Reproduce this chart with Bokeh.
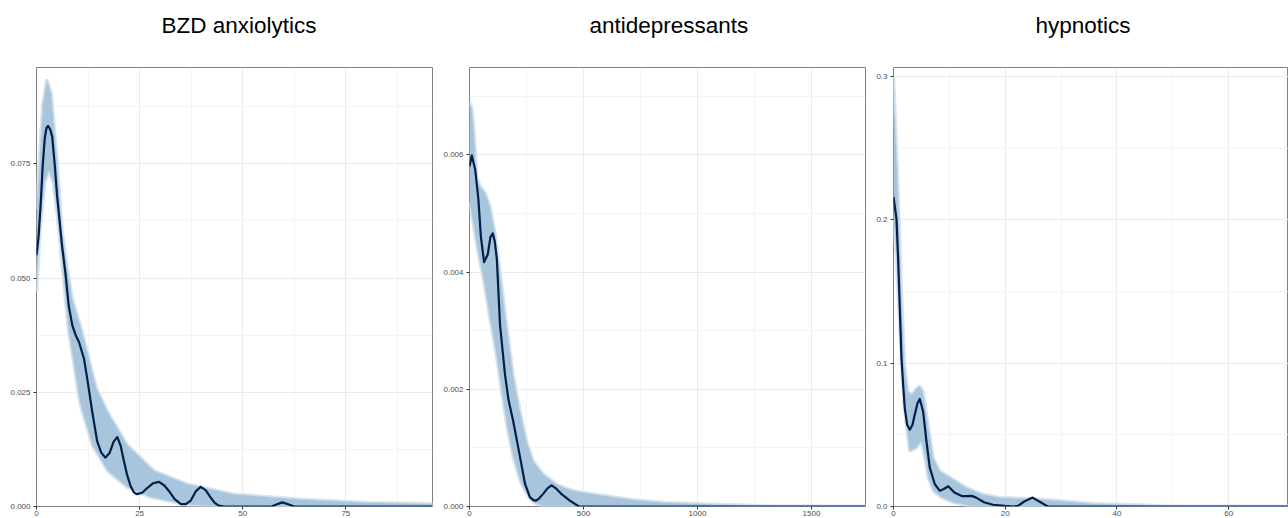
from bokeh.plotting import figure
from bokeh.models import Range1d, FixedTicker, PrintfTickFormatter, Title
from bokeh.layouts import row
from bokeh.embed import file_html
from bokeh.resources import INLINE

# ---------------- data ----------------
titles = ["BZD anxiolytics", "antidepressants", "hypnotics"]

# BZD anxiolytics
bzd_obs_x = [0, 0.5, 1.0, 1.5, 2.0, 2.4, 2.8, 3.3, 3.8, 4.4, 5.0, 5.6, 6.2, 7.0, 7.8, 8.7, 9.5, 10.3,
             11.5, 12.3, 13.5, 14.7, 15.7, 16.7, 17.7, 18.7, 19.6, 20.4, 21.2, 22.0, 22.8, 23.6, 24.4,
             25.6, 26.9, 28.3, 29.7, 31.0, 32.1, 33.5, 35.0, 36.2, 37.4, 38.6, 39.8, 41.0, 42.2, 43.2,
             44.2, 45.5, 57.0, 58.3, 59.6, 61.0, 62.5, 96]
bzd_obs_y = [0.055, 0.059, 0.066, 0.0745, 0.0805, 0.0828, 0.0833, 0.0826, 0.081, 0.075, 0.068, 0.0625,
             0.057, 0.0512, 0.044, 0.0396, 0.0375, 0.036, 0.0324, 0.028, 0.0208, 0.0143, 0.0118, 0.0107,
             0.0117, 0.0142, 0.0152, 0.0133, 0.0099, 0.0068, 0.0045, 0.0031, 0.0027, 0.003, 0.0041,
             0.0051, 0.0054, 0.0046, 0.0034, 0.0016, 0.0005, 0.0005, 0.0013, 0.0033, 0.0043, 0.0036,
             0.002, 0.0008, 0.0002, 0, 0, 0.0005, 0.0009, 0.0005, 0, 0]
bzd_up_x = [0, 0.8, 1.5, 2.5, 3.6, 5.0, 6.2, 7.4, 8.7, 11.1, 13.1, 14.5, 17.2, 22.0, 28.5, 36.6, 47.9,
            64.0, 80.0, 96]
bzd_up_y = [0.065, 0.077, 0.088, 0.0935, 0.0904, 0.0759, 0.0605, 0.0527, 0.0454, 0.0382, 0.031, 0.026,
            0.0208, 0.0135, 0.0078, 0.0049, 0.0027, 0.0016, 0.0009, 0.0006]
bzd_lo_x = [0, 1.0, 2.0, 3.0, 4.0, 5.0, 6.0, 7.0, 7.8, 9.1, 10.3, 11.1, 13.5, 17.2, 22.0, 27.7, 36.6,
            45.0, 96]
bzd_lo_y = [0.047, 0.062, 0.071, 0.0735, 0.071, 0.064, 0.055, 0.0454, 0.0382, 0.031, 0.0237, 0.0208,
            0.0135, 0.0078, 0.0042, 0.002, 0.0004, 0, 0]

# antidepressants
ad_obs_x = [0, 10, 25, 39, 50, 64, 80, 92, 102, 111, 120, 134, 156, 171, 192, 214, 244, 265, 280, 292,
            306, 324, 342, 360, 382, 404, 440, 480, 1737]
ad_obs_y = [0.0058, 0.00599, 0.00575, 0.00524, 0.0046, 0.00417, 0.0043, 0.0046, 0.00466, 0.00452,
            0.00422, 0.00309, 0.00224, 0.00182, 0.00145, 0.001, 0.00038, 0.00016, 0.00011, 0.0001,
            0.00014, 0.00022, 0.00031, 0.00036, 0.0003, 0.00021, 0.0001, 0, 0]
ad_up_x = [0, 10, 20, 32, 47, 69, 90, 112, 134, 163, 192, 222, 251, 280, 324, 382, 417, 455, 563, 709,
           853, 1072, 1300, 1737]
ad_up_y = [0.0069, 0.0068, 0.0064, 0.0056, 0.00546, 0.00535, 0.00512, 0.00467, 0.004, 0.00309, 0.00224,
           0.00162, 0.00111, 0.00077, 0.00055, 0.00038, 0.00032, 0.00027, 0.0002, 0.00012, 0.00007,
           0.00004, 0.00001, 0]
ad_lo_x = [0, 6, 32, 61, 90, 120, 141, 163, 192, 222, 251, 280, 324, 1737]
ad_lo_y = [0.0052, 0.00507, 0.00445, 0.00388, 0.0032, 0.00253, 0.00196, 0.0014, 0.00083, 0.00044,
           0.00021, 0.00007, 0, 0]

# hypnotics
hy_obs_x = [0, 0.54, 0.83, 1.13, 1.43, 1.73, 2.02, 2.44, 2.92, 3.4, 3.8, 4.3, 4.7, 5.3, 5.9, 6.5, 7.4,
            8.3, 9.0, 9.8, 10.9, 12.3, 13.2, 14.0, 14.8, 16.2, 17.8, 19.9, 21.5, 22.3, 23.4, 24.9, 26.4,
            27.6, 70.7]
hy_obs_y = [0.216, 0.2003, 0.1726, 0.138, 0.1033, 0.0848, 0.0686, 0.057, 0.0536, 0.057, 0.064, 0.072,
            0.075, 0.0663, 0.0455, 0.027, 0.0155, 0.0109, 0.0122, 0.0141, 0.0097, 0.0072, 0.0072, 0.0074,
            0.0062, 0.003, 0.0012, 0.0004, 0, 0.0005, 0.0035, 0.0062, 0.0028, 0, 0]
hy_up_x = [0, 0.36, 0.83, 1.43, 2.0, 2.6, 3.3, 4.0, 4.7, 5.3, 6.2, 7.1, 8.3, 10.7, 13.0, 16.0, 19.0, 24.0,
           30.0, 36.0, 44.8, 48.0, 70.7]
hy_up_y = [0.30, 0.265, 0.219, 0.149, 0.0986, 0.08, 0.078, 0.082, 0.084, 0.08, 0.057, 0.034, 0.0247,
           0.0189, 0.0132, 0.0085, 0.0062, 0.0055, 0.004, 0.002, 0.001, 0.0003, 0]
hy_lo_x = [0, 0.5, 1.0, 1.5, 2.0, 2.5, 2.9, 4.1, 5.0, 5.6, 6.2, 7.1, 8.6, 10.7, 13.0, 14.8, 70.7]
hy_lo_y = [0.20, 0.175, 0.135, 0.095, 0.068, 0.05, 0.0386, 0.0409, 0.0455, 0.034, 0.0201, 0.0109, 0.0062,
           0.0028, 0.001, 0, 0]

# axis ticks
bzd_xticks, bzd_xminor = [0, 25, 50, 75], [12.5, 37.5, 62.5, 87.5]
bzd_yticks, bzd_yminor = [0, 0.025, 0.05, 0.075], [0.0125, 0.0375, 0.0625, 0.0875]
ad_xticks, ad_xminor = [0, 500, 1000, 1500], [250, 750, 1250]
ad_yticks, ad_yminor = [0, 0.002, 0.004, 0.006], [0.001, 0.003, 0.005, 0.007]
hy_xticks, hy_xminor = [0, 20, 40, 60], [10, 30, 50, 70]
hy_yticks, hy_yminor = [0, 0.1, 0.2, 0.3], [0.05, 0.15, 0.25]

BAND = "#a9c5dc"
EDGE = "#c6d8e7"
HALO = "#dbe6f0"
OBS = "#011f4b"
FONT = "Liberation Sans"


def make_panel(title, xmax, ymax, xt, xm, yt, ym, yfmt, ox, oy, ux, uy, lx, ly,
               width, left, right, title_offset):
    p = figure(width=width, height=518, output_backend="svg", toolbar_location=None,
               x_range=Range1d(0, xmax), y_range=Range1d(0, ymax), title=None,
               min_border_left=left, min_border_right=right, min_border_top=67,
               min_border_bottom=0)
    # blank spacer between the panel and its title, then the title itself
    p.add_layout(Title(text=" ", text_font_size="25px", standoff=0), "above")
    p.add_layout(Title(text=title, align="left", text_font_size="22.5px",
                       text_font_style="normal", text_font=FONT, text_color="#000000",
                       standoff=0, offset=title_offset), "above")
    p.background_fill_color = "white"
    p.border_fill_color = "white"
    p.outline_line_color = "#7f7f7f"
    p.outline_line_width = 1

    p.xaxis.ticker = FixedTicker(ticks=xt, minor_ticks=xm)
    p.yaxis.ticker = FixedTicker(ticks=yt, minor_ticks=ym)
    p.yaxis.formatter = PrintfTickFormatter(format=yfmt)
    for ax in (p.xaxis, p.yaxis):
        ax.axis_line_color = None
        ax.major_tick_line_color = "#333333"
        ax.major_tick_out = 3
        ax.major_tick_in = 0
        ax.minor_tick_line_color = None
        ax.major_label_text_font_size = "8px"
        ax.major_label_text_font = FONT
        ax.major_label_text_color = "#4d4d4d"
        ax.major_label_standoff = 2
    p.xaxis.major_label_standoff = 0
    for g in (p.xgrid, p.ygrid):
        g.grid_line_color = "#ebebeb"
        g.grid_line_width = 1.1
        g.minor_grid_line_color = "#f2f2f2"
        g.minor_grid_line_width = 0.8

    # replicated-data band built from its two envelopes, with a soft halo
    p.line(ux, uy, line_color=HALO, line_width=3.5)
    p.line(lx, ly, line_color=HALO, line_width=3.5)
    p.patch(list(ux) + list(lx)[::-1], list(uy) + list(ly)[::-1],
            fill_color=BAND, line_color=None)
    p.line(ux, uy, line_color=EDGE, line_width=0.8)
    p.line(lx, ly, line_color=EDGE, line_width=0.8)
    # observed density
    p.line(ox, oy, line_color=OBS, line_width=2.2, line_join="round")
    return p


p1 = make_panel(titles[0], 96, 0.0961, bzd_xticks, bzd_xminor, bzd_yticks, bzd_yminor, "%.3f",
                bzd_obs_x, bzd_obs_y, bzd_up_x, bzd_up_y, bzd_lo_x, bzd_lo_y, 440, 36, 8, 125)
p2 = make_panel(titles[1], 1737, 0.00749, ad_xticks, ad_xminor, ad_yticks, ad_yminor, "%.3f",
                ad_obs_x, ad_obs_y, ad_up_x, ad_up_y, ad_lo_x, ad_lo_y, 433, 28, 8, 120)
p3 = make_panel(titles[2], 70.7, 0.3063, hy_xticks, hy_xminor, hy_yticks, hy_yminor, "%.1f",
                hy_obs_x, hy_obs_y, hy_up_x, hy_up_y, hy_lo_x, hy_lo_y, 415, 19, 0, 142)

layout = row(p1, p2, p3)
open("out.html", "w").write(file_html(layout, INLINE))
